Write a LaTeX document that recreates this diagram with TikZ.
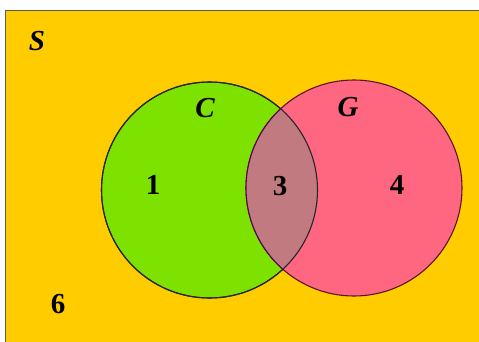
\documentclass[tikz,border=0pt]{standalone}
\usepackage{fontspec}
\setmainfont{Liberation Serif}
\usetikzlibrary{positioning}
\definecolor{sampleSp}{RGB}{255, 204, 0}
\definecolor{setC}{RGB}{126, 226, 0}
\definecolor{setG}{RGB}{255, 102, 128}
\definecolor{setCG}{RGB}{192, 122, 128}
\definecolor{rimG}{RGB}{90, 20, 50}

\begin{document}
\begin{tikzpicture}[x=1pt, y=1pt, font=\fontsize{29}{31}\selectfont\bfseries,
  setcirc/.style={draw, circle, minimum size=216pt, inner sep=0pt, line width=1.1pt}]
  \useasboundingbox (0,0) rectangle (479,341);
  \clip (0,0) rectangle (479,341);
  \fill[white] (0,0) rectangle (479,341);
  \draw[fill=sampleSp, draw=black!65, line width=1.8pt] (5.5,-5) rectangle (490,330.5);
  \node[setcirc, fill=setC, draw=black!85] (Cset) at (209.5,151) {};
  \node[setcirc, fill=setG, draw=rimG] (Gset) at (354,153) {};
  \begin{scope}
    \clip (Cset.center) circle (108);
    \fill[setCG] (Gset.center) circle (108);
  \end{scope}
  \draw[black!85, line width=1.1pt] (Cset.center) circle (108);
  \begin{scope}
    \clip (Cset.center) circle (108);
    \draw[violet!70!black, line width=1.1pt] (Gset.center) circle (108);
  \end{scope}
  % labels
  \node (lblS) at (37,300) {\itshape S};
  \node (lblC) at (205,233) {\itshape C};
  \node (lblG) at (348,234) {\itshape G};
  \node (lbl1) at (153,156) {1};
  \node (lbl3) at (280,155) {3};
  \node (lbl4) at (397,156) {4};
  \node (lbl6) at (58,37) {6};
\end{tikzpicture}
\end{document}
